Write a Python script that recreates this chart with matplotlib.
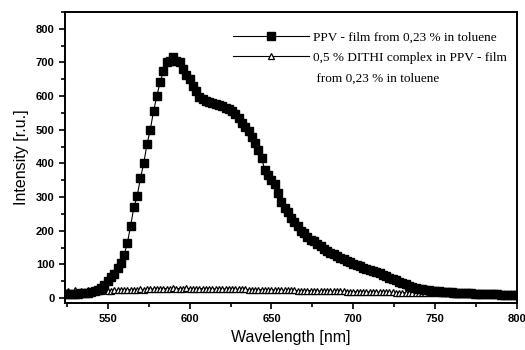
import numpy as np
import matplotlib.pyplot as plt
from matplotlib.lines import Line2D
from matplotlib.ticker import MultipleLocator

# wavelength grid of the scan [nm]
wavelength = np.arange(524, 801, 2)

# PPV film (2 nm steps)
ppv = [12, 11, 12, 12, 13, 14, 15, 16, 18, 21,
       25, 30, 40, 50, 62, 72, 88, 105, 128, 163,
       214, 270, 303, 356, 400, 457, 500, 555, 600, 641,
       673, 700, 705, 715, 705, 700, 680, 662, 650, 630,
       615, 597, 590, 585, 582, 578, 576, 572, 570, 566,
       561, 555, 548, 535, 520, 507, 495, 478, 460, 440,
       415, 380, 365, 350, 338, 312, 285, 268, 255, 238,
       226, 214, 200, 193, 182, 172, 168, 162, 155, 147,
       140, 135, 130, 125, 120, 115, 110, 106, 102, 98,
       94, 90, 86, 82, 79, 76, 73, 69, 65, 61,
       57, 53, 49, 45, 41, 37, 33, 30, 28, 26,
       25, 24, 22, 21, 20, 19, 18, 17, 17, 16,
       16, 15, 15, 14, 14, 13, 13, 13, 12, 12,
       12, 11, 11, 10, 10, 10, 9, 9, 9]

# 0,5 % DITHI complex in PPV film
dithi = [18, 22, 15, 24, 17, 21, 19, 23, 18, 20,
         22, 21, 23, 22, 22, 24, 23, 24, 24, 25,
         24, 25, 25, 26, 25, 26, 26, 27, 27, 28,
         28, 28, 28, 29, 28, 28, 28, 29, 28, 28,
         28, 28, 28, 27, 28, 27, 27, 27, 27, 27,
         27, 26, 26, 26, 26, 26, 25, 25, 25, 25,
         25, 24, 24, 24, 24, 24, 23, 23, 23, 23,
         23, 22, 22, 22, 22, 22, 21, 21, 21, 21,
         21, 20, 20, 20, 20, 20, 19, 19, 19, 19,
         19, 18, 18, 18, 18, 18, 17, 17, 17, 17,
         17, 16, 16, 16, 16, 16, 15, 15, 15, 15,
         15, 15, 14, 14, 14, 14, 14, 14, 13, 13,
         13, 13, 13, 13, 13, 12, 12, 12, 12, 12,
         12, 12, 12, 12, 12, 12, 12, 12, 12]

label_ppv = "PPV - film from 0,23 % in toluene"
label_dithi = "0,5 % DITHI complex in PPV - film"
label_dithi2 = " from 0,23 % in toluene"

fig = plt.figure(figsize=(5.25, 3.5), dpi=100)
ax = fig.add_axes([0.124, 0.134, 0.861, 0.832])

l_dithi, = ax.plot(wavelength, dithi, color='black', lw=0.8, marker='^', ms=5,
                   mfc='white', mec='black', mew=0.9, zorder=2)
l_ppv, = ax.plot(wavelength, ppv, color='black', lw=0.8, marker='s', ms=5.6,
                 mfc='black', mec='black', zorder=3)

ax.set_xlim(524, 800)
ax.set_ylim(-15, 850)
ax.xaxis.set_major_locator(MultipleLocator(50))
ax.xaxis.set_minor_locator(MultipleLocator(25))
ax.yaxis.set_major_locator(MultipleLocator(100))
ax.yaxis.set_minor_locator(MultipleLocator(50))
ax.tick_params(which='both', direction='out', top=False, right=False, width=1.2)
ax.tick_params(which='major', length=4, labelsize=8)
ax.tick_params(which='minor', length=3)
for lab in ax.get_xticklabels() + ax.get_yticklabels():
    lab.set_fontfamily('Liberation Sans')
    lab.set_fontweight('bold')
for sp in ax.spines.values():
    sp.set_linewidth(1.4)

ax.set_xlabel("Wavelength [nm]", fontsize=11.5, family='Liberation Sans', labelpad=5)
ax.set_ylabel("Intensity [r.u.]", fontsize=11.5, family='Liberation Sans', labelpad=5)

blank = Line2D([], [], linestyle='none')
ax.legend([l_ppv, l_dithi, blank], [label_ppv, label_dithi, label_dithi2],
          loc='upper left', bbox_to_anchor=(0.345, 0.975),
          frameon=False, handlelength=5.8, handletextpad=0.3, labelspacing=0.65,
          prop={'family': 'Liberation Serif', 'size': 9.5})

fig.savefig("out.png", dpi=100)
